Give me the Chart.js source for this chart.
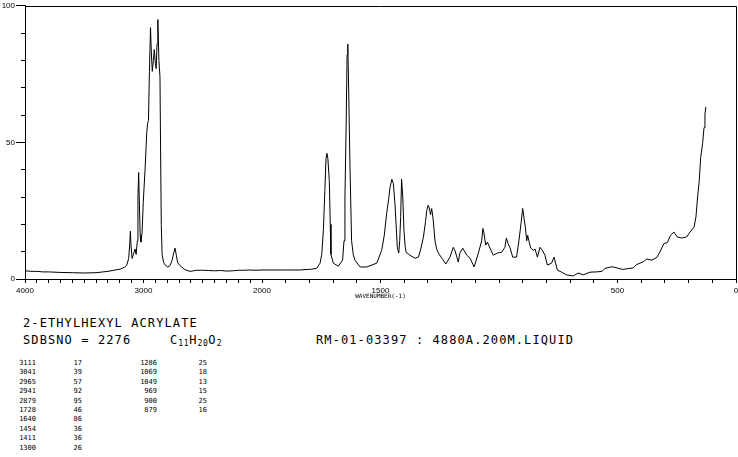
<!DOCTYPE html>
<html>
<head>
<meta charset="utf-8">
<script src="https://cdn.jsdelivr.net/npm/chart.js@4.4.1/dist/chart.umd.min.js"></script>
<style>
  body { margin: 0; background: #fff; }
  #wrap { position: relative; width: 738px; height: 457px; overflow: hidden; background: #fff; }
  #chartBox { position: absolute; left: 0; top: 0; width: 738px; height: 300px; }
  .txt { position: absolute; font-family: "DejaVu Sans Mono", monospace; color: #000; white-space: pre; }
  .big { font-size: 12px; line-height: 12px; letter-spacing: 1.1px; }
  .big sub { font-size: 8px; letter-spacing: 0.6px; vertical-align: -2px; line-height: 0; }
  .tbl { font-size: 7px; line-height: 9.4px; text-align: right; }
</style>
</head>
<body>
<div id="wrap">
  <div id="chartBox"><canvas id="ramanChart"></canvas></div>
  <div class="txt big" style="left:23px;top:317px">2-ETHYLHEXYL ACRYLATE</div>
  <div class="txt big" style="left:23px;top:334px">SDBSNO = 2276</div>
  <div class="txt big" style="left:170px;top:334px">C<sub>11</sub>H<sub>20</sub>O<sub>2</sub></div>
  <div class="txt big" style="left:316px;top:334px">RM-01-03397 : 4880A.200M.LIQUID</div>
  <div class="txt tbl" id="col1" style="left:0px;width:36px;top:359px"></div>
  <div class="txt tbl" id="col2" style="left:50px;width:32px;top:359px"></div>
  <div class="txt tbl" id="col3" style="left:110px;width:47px;top:359px"></div>
  <div class="txt tbl" id="col4" style="left:180px;width:27px;top:359px"></div>
</div>
<script>
// spectrum (wavenumber cm-1 / relative intensity)
const wavenumbers = [
  4000, 3950, 3900, 3850, 3800, 3700, 3600, 3500, 3400, 3300, 3250, 3198, 3160, 3142,
  3125, 3116, 3111, 3105, 3096, 3085, 3072, 3062, 3052, 3047, 3041, 3036, 3028, 3022,
  3012, 3002, 2987, 2972, 2965, 2958, 2950, 2941, 2933, 2926, 2917, 2909, 2900, 2893,
  2886, 2879, 2870, 2861, 2856, 2850, 2843, 2830, 2815, 2795, 2775, 2758, 2745, 2734,
  2722, 2712, 2695, 2678, 2650, 2608, 2550, 2500, 2450, 2400, 2350, 2300, 2245, 2200,
  2150, 2100, 2050, 2000, 1950, 1900, 1840, 1790, 1769, 1755, 1748, 1741, 1735, 1730,
  1726, 1722, 1716, 1712, 1709, 1699, 1678, 1660, 1654, 1650, 1645, 1641, 1638, 1634,
  1629, 1622, 1615, 1608, 1586, 1558, 1540, 1516, 1495, 1484, 1474, 1466, 1460, 1452,
  1446, 1439, 1433, 1429, 1423, 1419, 1415, 1411, 1406, 1401, 1396, 1392, 1376, 1354,
  1340, 1330, 1319, 1310, 1305, 1299, 1294, 1289, 1284, 1278, 1270, 1263, 1256, 1241,
  1224, 1207, 1193, 1186, 1172, 1165, 1153, 1136, 1122, 1105, 1087, 1073, 1068, 1064,
  1056, 1049, 1038, 1024, 1007, 989, 975, 969, 962, 954, 942, 926, 916, 907,
  900, 894, 889, 883, 879, 874, 866, 855, 848, 838, 827, 817, 806, 796,
  778, 768, 761, 754, 736, 715, 687, 666, 645, 616, 588, 565, 553, 522,
  500, 478, 455, 433, 419, 391, 377, 355, 334, 321, 304, 290, 276, 262,
  248, 229, 208, 194, 177, 169, 162, 155, 149, 141, 135, 131, 127
];
const intensity = [
  3.0, 2.8, 2.8, 2.6, 2.6, 2.4, 2.3, 2.2, 2.3, 2.8, 3.2, 3.6, 4.3, 5.0,
  7.5, 13, 17.5, 12, 7.5, 9, 11, 9, 14, 30, 39, 30, 16, 13.5,
  17, 28, 40, 54, 57, 58, 76, 92, 82, 76, 80, 84, 79, 77,
  86, 95, 80, 74, 48, 20, 9, 6, 5, 4.4, 5, 7, 9.5, 11.3,
  8.5, 6, 5, 4.4, 3.4, 2.8, 3.2, 3.2, 3.1, 3.0, 3.1, 2.9, 3.0, 3.2,
  3.2, 3.3, 3.2, 3.3, 3.3, 3.3, 3.3, 3.6, 3.9, 5.8, 9, 17.8, 32, 44,
  46, 44, 36, 20, 9, 5.8, 4.7, 6.9, 14, 30, 56, 82, 86, 68,
  42, 14, 9, 6.9, 4.4, 4.4, 5, 5.8, 10.5, 16, 24, 29, 33.5, 36.5,
  35, 27.6, 18, 11.6, 9.5, 14, 22.5, 36.5, 30, 17.8, 12, 9.8, 8.7, 7.6,
  8, 11, 15.3, 21, 25, 27, 26, 23.5, 25.8, 22, 14, 11, 9.5, 7.6,
  5.5, 8, 11.6, 10.5, 6.2, 9.5, 11.3, 8.7, 7.6, 4.4, 9.5, 14, 18.5, 17,
  12.4, 13.5, 11.3, 8.7, 9.5, 9.8, 11.6, 15, 13, 11.6, 8, 8, 14, 20.4,
  25.8, 22, 19, 14, 16, 14, 11.3, 10.5, 11, 8, 11.6, 10.5, 8.7, 5.1,
  5.8, 8, 5.8, 3.3, 2.5, 1.5, 1.1, 2.2, 1.5, 2.5, 2.6, 2.8, 3.9, 4.5,
  4.0, 3.5, 3.8, 4.1, 5.3, 6.3, 7.3, 6.9, 7.9, 9.9, 13, 13.3, 16, 17.2,
  15.4, 15, 15.4, 17.2, 19, 22.7, 30, 36, 44.5, 49.5, 55.4, 60.3, 63
];

// peak list printed under the chart
const peakWn = [3111, 3041, 2965, 2941, 2879, 1728, 1640, 1454, 1411, 1300, 1286, 1069, 1049, 969, 900, 879];
const peakInt = [17, 39, 57, 92, 95, 46, 86, 36, 36, 26, 25, 18, 13, 15, 25, 16];

// axis ticks
const xLabelled = [4000, 3000, 2000, 1500, 500, 0];
const xTicks = [];
for (let v = 0; v <= 4000; v += 100) xTicks.push(v);
const yLabelled = [0, 50, 100];

document.getElementById('col1').textContent = peakWn.slice(0, 10).join('\n');
document.getElementById('col2').textContent = peakInt.slice(0, 10).join('\n');
document.getElementById('col3').textContent = peakWn.slice(10).join('\n');
document.getElementById('col4').textContent = peakInt.slice(10).join('\n');

// 4000-2000 squeezed into one third, 2000-0 spread over two thirds
class SplitWaveScale extends Chart.LinearScale {
    getPixelForValue(value) {
        const d = value >= 2000 ? (4000 - value) : 2000 + (2000 - value) * 2;
        return this.left + (d / 6000) * this.width;
    }
    getValueForPixel(pixel) {
        const d = (pixel - this.left) / this.width * 6000;
        return d <= 2000 ? 4000 - d : 2000 - (d - 2000) / 2;
    }
}
SplitWaveScale.id = 'splitwave';
SplitWaveScale.defaults = Chart.LinearScale.defaults;
Chart.register(SplitWaveScale);

const frame = {
    id: 'frame',
    afterDraw(chart) {
        const { ctx, chartArea: a } = chart;
        ctx.save();
        ctx.strokeStyle = '#000';
        ctx.lineWidth = 1;
        ctx.beginPath();
        ctx.moveTo(a.left, Math.round(a.top) + 0.5);
        ctx.lineTo(Math.round(a.right) + 0.5, Math.round(a.top) + 0.5);
        ctx.lineTo(Math.round(a.right) + 0.5, a.bottom);
        ctx.stroke();
        ctx.restore();
    }
};

const tickFont = { family: 'Liberation Sans', size: 8 };

new Chart(document.getElementById('ramanChart').getContext('2d'), {
    type: 'line',
    data: {
        datasets: [{
            data: wavenumbers.map((w, i) => ({ x: w, y: intensity[i] })),
            borderColor: '#000',
            borderWidth: 1,
            pointRadius: 0,
            tension: 0,
            fill: false
        }]
    },
    options: {
        responsive: true,
        maintainAspectRatio: false,
        animation: false,
        layout: { padding: { top: 4, right: 2, left: 0, bottom: 0 } },
        plugins: {
            legend: { display: false },
            tooltip: { enabled: false }
        },
        scales: {
            x: {
                type: 'splitwave',
                min: 0,
                max: 4000,
                afterBuildTicks: s => { s.ticks = xTicks.map(v => ({ value: v })); },
                afterFit: s => { s.height = 21; },
                ticks: {
                    autoSkip: false,
                    maxRotation: 0,
                    padding: 3,
                    color: '#000',
                    font: tickFont,
                    callback: v => xLabelled.includes(v) ? String(v) : ''
                },
                grid: { drawOnChartArea: false, drawTicks: true, tickLength: 4, color: '#000', lineWidth: 1 },
                border: { display: true, color: '#000', width: 1 },
                title: {
                    display: true,
                    text: 'WAVENUMBER(-1)',
                    color: '#000',
                    font: { family: 'DejaVu Sans Mono', size: 6 },
                    padding: { top: 0, bottom: 0 }
                }
            },
            y: {
                min: 0,
                max: 100,
                afterFit: s => { s.width = 25; },
                ticks: {
                    stepSize: 10,
                    autoSkip: false,
                    padding: 1,
                    color: '#000',
                    font: tickFont,
                    callback: v => yLabelled.includes(v) ? String(v) : ''
                },
                grid: {
                    drawOnChartArea: false,
                    drawTicks: true,
                    tickLength: 9,
                    color: '#000',
                    lineWidth: 1,
                    tickBorderDash: ctx => (ctx.tick && ctx.tick.value % 50 === 0) ? [] : [0, 5, 10]
                },
                border: { display: true, color: '#000', width: 1 }
            }
        }
    },
    plugins: [frame]
});
</script>
</body>
</html>
